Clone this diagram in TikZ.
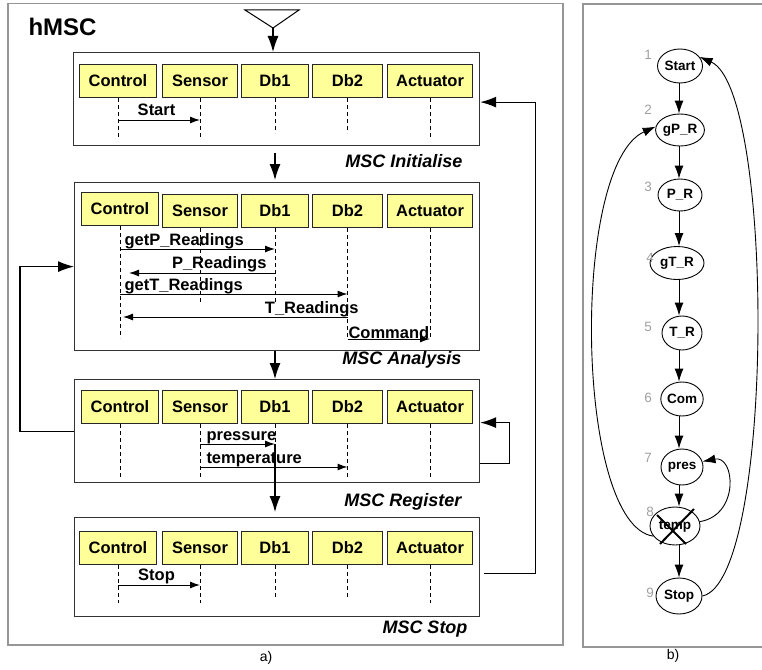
\documentclass[tikz,border=0pt]{standalone}
\usepackage{fontspec}
\setmainfont{Liberation Sans}
\usetikzlibrary{arrows.meta,shapes.geometric,calc}
\definecolor{headyellow}{RGB}{255,255,153}
\definecolor{framegray}{RGB}{150,150,150}
\definecolor{numgray}{RGB}{160,160,160}
\newcommand{\mscheads}[4]{%
  \node[headbox, minimum width=77pt] (c#1) at (#3,#4) {Control};
  \node[headbox, minimum width=75pt] (s#1) at (162,#2) {Sensor};
  \node[headbox, minimum width=67pt] (d#1) at (241,#2) {Db1};
  \node[headbox, minimum width=70pt] (e#1) at (312,#2) {Db2};
  \node[headbox, minimum width=85pt] (a#1) at (387,#2) {Actuator};
}
\begin{document}
\begin{tikzpicture}[x=1pt,y=-1pt,line width=1pt,
  headbox/.style={draw=black!85, fill=headyellow, anchor=north west, inner sep=0pt,
    minimum height=33pt, font=\fontsize{16.5}{18}\selectfont\bfseries, line width=1pt},
  life/.style={dash pattern=on 4pt off 3pt, line width=0.9pt},
  msg/.style={-{Latex[length=10pt,width=7pt]}, line width=1pt},
  mlabel/.style={inner sep=0pt, anchor=base west, font=\fontsize{16.5}{18}\selectfont\bfseries},
  mscbox/.style={draw=black!80, anchor=north west, inner sep=0pt, line width=1.2pt},
  msclabel/.style={inner sep=0pt, anchor=base east, font=\fontsize{18}{20}\selectfont\bfseries\itshape},
  bigarr/.style={-{Latex[length=16pt,width=11pt]}, line width=1.2pt},
  outerframe/.style={draw=framegray, line width=1.5pt},
  st/.style={draw, ellipse, inner sep=0pt, line width=0.9pt, font=\fontsize{13.5}{14}\selectfont\bfseries},
  tarr/.style={-{Latex[length=13pt,width=9pt]}, line width=0.9pt},
  numlabel/.style={inner sep=0pt, text=numgray, font=\fontsize{13.5}{14}\selectfont},
  captext/.style={inner sep=0pt, font=\fontsize{14}{15}\selectfont}
]
\useasboundingbox (0,0) rectangle (762,669);

% outer frames
\draw[outerframe] (8,3.5) rectangle (563,645);
\draw[outerframe] (763,4) -- (583,4) -- (583,647) -- (763,647);
\node[inner sep=0pt, anchor=base west, font=\fontsize{24}{26}\selectfont\bfseries] (title) at (28,36) {hMSC};
\node[captext] (capa) at (266,658) {a)};
\node[captext] (capb) at (673,656) {b)};

% MSC frames
\node[mscbox, minimum width=406pt, minimum height=93pt] (B1) at (73,52) {};
\node[mscbox, minimum width=405pt, minimum height=168pt] (B2) at (74,182) {};
\node[mscbox, minimum width=405pt, minimum height=103pt] (B3) at (74,379) {};
\node[mscbox, minimum width=405pt, minimum height=99pt] (B4) at (74,517) {};

\node[msclabel] (L1) at (463,167.5) {MSC Initialise};
\node[msclabel] (L2) at (462,364.5) {MSC Analysis};
\node[msclabel] (L3) at (462,506.5) {MSC Register};
\node[msclabel] (L4) at (468,633.5) {MSC Stop};

% start triangle
\draw[line width=1pt] (245,10) -- (299,10) -- (273,28) -- cycle;
\coordinate (tri) at (273,28);
\draw[bigarr] (tri) -- (tri |- B1.north);

% ---------- MSC Initialise
\mscheads{1}{64}{79}{64}
\draw[life] (c1.south) -- (c1.south |- 0,137);
\draw[life] (s1.south) -- (s1.south |- 0,137);
\draw[life] (d1.south) -- (d1.south |- 0,133);
\draw[life] (e1.south) -- (e1.south |- 0,133);
\draw[life] (a1.south) -- (a1.south |- 0,137);
\draw[msg] (c1.south |- 0,120) -- node[mlabel, anchor=base, pos=0.47, yshift=5pt] (mStart) {Start} (s1.south |- 0,120);
\draw[bigarr, shorten <=7pt, shorten >=2pt] (d1.south |- B1.south) -- (d1.south |- B2.north);

% ---------- MSC Analysis
\mscheads{2}{194}{81}{192}
\draw[life] (c2.south) -- (c2.south |- 0,338);
\draw[life] (s2.south) -- (s2.south |- 0,303);
\draw[life] (d2.south) -- (d2.south |- 0,303);
\draw[life] (e2.south) -- (e2.south |- 0,338);
\draw[life] (a2.south) -- (a2.south |- 0,338);
\draw[msg] (c2.south |- 0,249) -- (d2.south |- 0,249);
\node[mlabel] (mgP) at (124,245) {getP\_Readings};
\draw[msg, shorten >=9pt] (d2.south |- 0,273) -- (c2.south |- 0,273);
\node[mlabel, anchor=base east] (mP) at (267,268) {P\_Readings};
\draw[msg] (c2.south |- 0,294) -- (e2.south |- 0,294);
\node[mlabel] (mgT) at (124,290) {getT\_Readings};
\draw[msg, shorten >=3pt] (e2.south |- 0,317) -- (c2.south |- 0,317);
\node[mlabel, anchor=base east] (mT) at (359,313) {T\_Readings};
\draw[msg] (e2.south |- 0,339) -- (a2.south |- 0,339);
\node[mlabel] (mCom) at (348,338) {Command};
\draw[bigarr] (d2.south |- B2.south) -- (d2.south |- B3.north);

% ---------- MSC Register
\mscheads{3}{390}{81}{390}
\draw[life] (c3.south) -- (c3.south |- 0,477);
\draw[life] (s3.south) -- (s3.south |- 0,477);
\draw[life] (d3.south) -- (d3.south |- 0,444);
\draw[life] (e3.south) -- (e3.south |- 0,477);
\draw[life] (a3.south) -- (a3.south |- 0,477);
\draw[msg] (s3.south |- 0,444) -- (d3.south |- 0,444);
\node[mlabel] (mpr) at (206,440) {pressure};
\draw[msg] (s3.south |- 0,467) -- (e3.south |- 0,467);
\node[mlabel] (mte) at (206,463) {temperature};
\draw[bigarr, shorten >=5pt] (d3.south |- 0,444) -- (d3.south |- B4.north);
\draw[bigarr] ([yshift=-32.5pt]B3.east) -- ++(29,0) |- ([yshift=8.5pt]B3.east);
\draw[bigarr] (B3.west) -- ++(-54,0) |- (B2.west);

% ---------- MSC Stop
\mscheads{4}{531}{79}{531}
\draw[life] (c4.south) -- (c4.south |- 0,603);
\draw[life] (s4.south) -- (s4.south |- 0,603);
\draw[life] (d4.south) -- (d4.south |- 0,599);
\draw[life] (e4.south) -- (e4.south |- 0,599);
\draw[life] (a4.south) -- (a4.south |- 0,603);
\draw[msg] (c4.south |- 0,585) -- node[mlabel, anchor=base, pos=0.47, yshift=5pt] (mStop) {Stop} (s4.south |- 0,585);
\draw[bigarr, shorten <=4pt] ([yshift=-6.5pt]B4.east) -- ++(55,0) |- ([yshift=-3pt]B1.east);

% ---------- right panel: state graph
\node[st, minimum width=45pt, minimum height=34pt] (st1) at (680,66) {Start};
\node[st, minimum width=46pt, minimum height=32pt] (st2) at (680,130) {gP\_R};
\node[st, minimum width=44pt, minimum height=32pt] (st3) at (680,195) {P\_R};
\node[st, minimum width=54pt, minimum height=33pt] (st4) at (677,263) {gT\_R};
\node[st, minimum width=40pt, minimum height=34pt] (st5) at (682,333) {T\_R};
\node[st, minimum width=42pt, minimum height=34pt] (st6) at (682,399) {Com};
\node[st, minimum width=42pt, minimum height=36pt] (st7) at (682,467) {pres};
\node[st, minimum width=50pt, minimum height=38pt] (st8) at (675,526) {temp};
\node[st, minimum width=46pt, minimum height=36pt] (st9) at (679,596) {Stop};

\node[numlabel] (n1) at (648,55) {1};
\node[numlabel] (n2) at (648,110) {2};
\node[numlabel] (n3) at (648,187) {3};
\node[numlabel] (n4) at (650,258) {4};
\node[numlabel] (n5) at (648,327) {5};
\node[numlabel] (n6) at (648,398) {6};
\node[numlabel] (n7) at (648,458) {7};
\node[numlabel] (n8) at (650,512) {8};
\node[numlabel] (n9) at (650,593) {9};

\coordinate (ax) at (679,0);
\draw[tarr] (ax |- st1.south) -- (ax |- st2.north);
\draw[tarr] (ax |- st2.south) -- (ax |- st3.north);
\draw[tarr] (ax |- st3.south) -- (ax |- st4.north);
\draw[tarr] (ax |- st4.south) -- (ax |- st5.north);
\draw[tarr] (ax |- st5.south) -- (ax |- st6.north);
\draw[tarr] (ax |- st6.south) -- (ax |- st7.north);
\draw[tarr] (ax |- st7.south) -- (ax |- st8.north);
\draw[tarr] (ax |- st8.south) -- (ax |- st9.north);

% cross on temp
\draw[line width=2pt] (660,544) -- (694,509);
\draw[line width=2pt] (657,515) -- (686,544);

% back edges
\draw[tarr] (st8.205) .. controls (575,525) and (570,165) .. (st2.172);
\draw[tarr] (st9.east) .. controls (775,580) and (775,90) .. (st1.25);
\draw[tarr] (st8.10) .. controls (740,515) and (735,455) .. (st7.15);
\end{tikzpicture}
\end{document}
